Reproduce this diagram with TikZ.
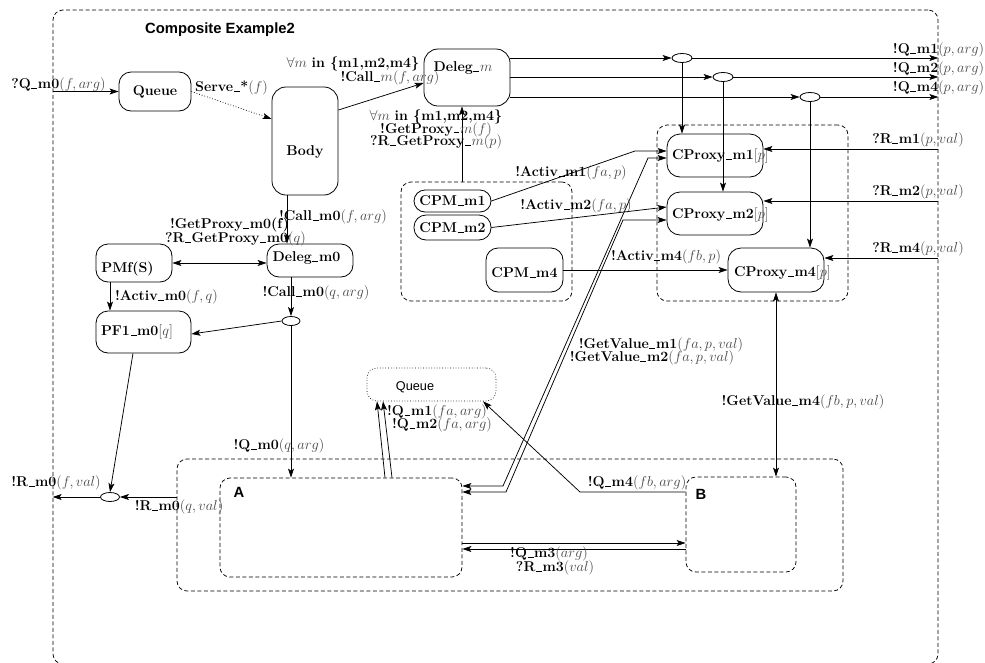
\documentclass[tikz,border=0pt]{standalone}
\usepackage{fontspec}
\newfontfamily\hv{Liberation Sans}
\usetikzlibrary{shapes.geometric,arrows.meta}
\definecolor{mathgray}{gray}{0.28}
\newcommand\gm[1]{\textcolor{mathgray}{$#1$}}
\newcommand\bb[1]{\textbf{#1}}
\newcommand\us{\kern0.04em\rule{0.42em}{0.6pt}\kern0.04em}
\newcommand\lt[2]{\makebox[0pt][l]{\hspace*{#1}#2}}
\begin{document}
\begin{tikzpicture}[x=1pt,y=-1pt,
  every node/.style={font=\fontsize{14.2}{15}\selectfont},
  lbl/.style={inner sep=0pt},
  box/.style={draw, line width=0.8pt, rounded corners=12pt, inner sep=0pt},
  reg/.style={draw, dash pattern=on 4pt off 2.5pt, line width=0.75pt, rounded corners=10pt, inner sep=0pt},
  junc/.style={draw, ellipse, line width=0.8pt, minimum width=20pt, minimum height=9pt, inner sep=0pt},
  arr/.style={line width=0.75pt, -{Stealth[length=9pt,width=6pt,inset=2pt]}},
  arrs/.style={line width=0.75pt, {Stealth[length=9pt,width=6pt,inset=2pt]}-{Stealth[length=9pt,width=6pt,inset=2pt]}},
  sans/.style={font=\hv\bfseries\fontsize{14.8}{15}\selectfont}
]
\useasboundingbox (0,0) rectangle (985,662);
% regions
\node[reg, minimum width=885pt, minimum height=654pt] (outer) at (495.5,337) {};
\node[sans] (title) at (220,30) {Composite Example2};
\node[reg, minimum width=171pt, minimum height=119pt] (cpmreg) at (486.5,241.5) {};
\node[reg, minimum width=191pt, minimum height=176pt] (cpreg) at (752.5,213) {};
\node[reg, minimum width=666pt, minimum height=132pt] (big) at (510,525) {};
\node[reg, minimum width=242pt, minimum height=99pt] (A) at (341,527.5) {};
\node[reg, minimum width=110pt, minimum height=95pt] (B) at (741,524.5) {};
\node[sans] (Alab) at (239,492) {A};
\node[sans] (Blab) at (701,494) {B};
\node[draw, dotted, line width=0.7pt, rounded corners=10pt, inner sep=0pt, minimum width=129pt, minimum height=33pt,
  label={[xshift=-16.5pt,yshift=-2.5pt,font=\hv\fontsize{12.7}{13}\selectfont]center:Queue}] (q2) at (431.5,384.5) {};
% boxes
\node[box, minimum width=72pt, minimum height=39pt] (queue) at (155,91.5) {\bb{Queue}};
\node[box, rounded corners=14pt, minimum width=66pt, minimum height=108pt,
  label={[yshift=-11pt]center:\bb{Body}}] (body) at (305,141) {};
\node[box, rounded corners=14pt, minimum width=86pt, minimum height=57pt,
  label={[xshift=-4pt,yshift=9.5pt]center:{\bb{Deleg\us}\gm{m}}}] (dm) at (467,77.5) {};
\node[box, minimum width=86pt, minimum height=33pt,
  label={[xshift=-3.5pt,yshift=2.5pt]center:\bb{Deleg\us m0}}] (dm0) at (310,260.5) {};
\node[box, minimum width=76pt, minimum height=38pt,
  label={[xshift=-6.5pt,yshift=-5.5pt]center:\bb{PMf(S)}}] (pmf) at (134,263) {};
\node[box, minimum width=95pt, minimum height=42pt,
  label={[xshift=-6.5pt]center:{\bb{PF1\us m0}\gm{[q]}}}] (pf1) at (143.5,332) {};
\node[box, rounded corners=11pt, minimum width=77pt, minimum height=22pt] (cpm1) at (452.5,201) {\bb{CPM\us m1}};
\node[box, rounded corners=12pt, minimum width=77pt, minimum height=25pt] (cpm2) at (452.5,227.5) {\bb{CPM\us m2}};
\node[box, minimum width=77pt, minimum height=44pt,
  label={[yshift=-3pt]center:\bb{CPM\us m4}}] (cpm4) at (524.5,270) {};
\node[box, rounded corners=13pt, minimum width=96pt, minimum height=43pt] (cp1) at (715,155.5) {\lt{-43pt}{\bb{CProxy\us m1}\gm{[p]}}};
\node[box, rounded corners=13pt, minimum width=96pt, minimum height=43pt,
  label={[yshift=-1.5pt]center:\lt{-43pt}{\bb{CProxy\us m2}\gm{[p]}}}] (cp2) at (715,213.5) {};
\node[box, rounded corners=13pt, minimum width=96pt, minimum height=44pt,
  label={[yshift=-3pt]center:\lt{-42pt}{\bb{CProxy\us m4}\gm{[p]}}}] (cp4) at (776,270) {};
% junctions
\node[junc] (e1) at (682,58) {};
\node[junc] (e2) at (723,77) {};
\node[junc] (e3) at (810,97) {};
\node[junc, minimum width=18pt] (e0) at (291,321) {};
\node[junc, minimum width=19pt] (eR) at (110,497) {};
% coordinates
\coordinate (gp) at ([xshift=-24.5pt]cpmreg.north);
\coordinate (a1) at (635,151);
\coordinate (g1a) at (648,158);
\coordinate (g1b) at (503,486);
\coordinate (g2a) at (623,220);
\coordinate (g2b) at (506,492);
\coordinate (m3a) at ([yshift=-15.5pt]A.east);
\coordinate (m3b) at ([yshift=-21.5pt]A.east);
\coordinate (q4b) at (580,492);
\coordinate (c0) at ([xshift=-18pt]body.south);
\coordinate (c1) at ([xshift=-24pt]pmf.south);
\coordinate (r1) at ([yshift=6.5pt]cp1.east);
\coordinate (r2) at ([yshift=12.5pt]cp2.east);
\coordinate (r4) at ([yshift=12pt]cp4.east);
% connectors top
\draw[arr] (outer.west |- queue.west) -- (queue.west);
\draw[arr, dotted] (queue.east) -- ([yshift=22pt]body.west);
\draw[arr] ([yshift=31pt]body.east) -- ([yshift=-5.5pt]dm.west);
\draw[arr] (dm.east |- e1) -- (e1.west);
\draw[arr] (dm.east |- e2) -- (e2.west);
\draw[arr] (dm.east |- e3) -- (e3.west);
\draw[arr] (e1.east) -- (e1 -| outer.east);
\draw[arr] (e2.east) -- (e2 -| outer.east);
\draw[arr] (e3.east) -- (e3 -| outer.east);
\draw[arr] (e1.south) -- (e1 |- cp1.north);
\draw[arr] (e2.south) -- (e2 |- cp2.north);
\draw[arr] (e3.south) -- (e3 |- cp4.north);
\draw[arr] (r1 -| outer.east) -- (r1);
\draw[arr] (r2 -| outer.east) -- (r2);
\draw[arr] (r4 -| outer.east) -- (r4);
\draw[arr] (gp) -- (gp |- dm.south);
\draw[arr] (cpm1.east) -- (a1) -- (a1 -| cp1.west);
\draw[arr] (cpm2.east) -- ([yshift=6.5pt]cp2.west);
\draw[arr] (cpm4.east) -- (cp4.west);
\draw[arrs] (g1b -| A.east) -- (g1b) -- (g1a) -- (g1a -| cp1.west);
\draw[arrs] (g2b -| A.east) -- (g2b) -- (g2a) -- (g2a -| cp2.west);
\draw[arrs] (cp4.south) -- (cp4.south |- B.north);
\draw[arr] (m3a) -- (m3a -| B.west);
\draw[arr] (m3b -| B.west) -- (m3b);
\draw[arr] (q4b -| B.west) -- (q4b) -- ([xshift=51.5pt]q2.south);
\draw[arr] ([xshift=44pt]A.north) -- ([xshift=-54.5pt]q2.south);
\draw[arr] ([xshift=51pt]A.north) -- ([xshift=-48.5pt]q2.south);
% connectors left
\draw[arr] (c0) -- (c0 |- dm0.north);
\draw[arrs] (pmf.east) -- (pmf.east -| dm0.west);
\draw[arr] (c1) -- (c1 |- pf1.north);
\draw[arr] (e0 |- dm0.south) -- (e0.north);
\draw[arr] (e0.west) -- ([yshift=-2pt]pf1.east);
\draw[arr] (e0.south) -- (e0 |- A.north);
\draw[arr] ([xshift=-10.5pt]pf1.south) -- (eR.north);
\draw[arr] (eR -| big.west) -- (eR.east);
\draw[arr] (eR.west) -- (eR -| outer.west);
% labels
\node[lbl] (lq0) at (58.5,85) {\bb{?Q\us m0}\gm{(f,arg)}};
\node[lbl] (lsv) at (231.5,88) {\bb{Serve\us *}\gm{(f)}};
\node[lbl] (lfa) at (353,64) {\gm{\forall m} \bb{in \{m1,m2,m4\}}};
\node[lbl] (lcm) at (390,78) {\bb{!Call\us}\gm{m(f,arg)}};
\node[lbl] (lqm1) at (938.5,50) {\bb{!Q\us m1}\gm{(p,arg)}};
\node[lbl] (lqm2) at (938.5,69) {\bb{!Q\us m2}\gm{(p,arg)}};
\node[lbl] (lqm4) at (938.5,88) {\bb{!Q\us m4}\gm{(p,arg)}};
\node[lbl] (lrm1) at (918,140) {\bb{?R\us m1}\gm{(p,val)}};
\node[lbl] (lrm2) at (918,192) {\bb{?R\us m2}\gm{(p,val)}};
\node[lbl] (lrm4) at (918,249) {\bb{?R\us m4}\gm{(p,val)}};
\node[lbl, align=center] (lgp) at (436,129.5) {\gm{\forall m} \bb{in \{m1,m2,m4\}}\\[-2.5pt]\bb{!GetProxy\us}\gm{m(f)}\\[-2.5pt]\bb{?R\us GetProxy\us}\gm{m(p)}};
\node[lbl] (la1) at (571,173) {\bb{!Activ\us m1}\gm{(fa,p)}};
\node[lbl] (la2) at (576,206) {\bb{!Activ\us m2}\gm{(fa,p)}};
\node[lbl] (la4) at (666,257) {\bb{!Activ\us m4}\gm{(fb,p)}};
\node[lbl] (lgv1) at (661,345) {\bb{!GetValue\us m1}\gm{(fa,p,val)}};
\node[lbl] (lgv2) at (652,358) {\bb{!GetValue\us m2}\gm{(fa,p,val)}};
\node[lbl] (lgv4) at (803,402) {\bb{!GetValue\us m4}\gm{(fb,p,val)}};
\node[lbl] (lqa1) at (437,412) {\bb{!Q\us m1}\gm{(fa,arg)}};
\node[lbl] (lqa2) at (442,425) {\bb{!Q\us m2}\gm{(fa,arg)}};
\node[lbl] (lq4) at (637,483) {\bb{!Q\us m4}\gm{(fb,arg)}};
\node[lbl] (lq3) at (549,554) {\bb{!Q\us m3}\gm{(arg)}};
\node[lbl] (lr3) at (555,568) {\bb{?R\us m3}\gm{(val)}};
\node[lbl] (lc0) at (333,217) {\bb{!Call\us m0}\gm{(f,arg)}};
\node[lbl] (lgp0) at (229.5,225) {\bb{!GetProxy\us m0(f)}};
\node[lbl] (lrgp0) at (235.5,239) {\bb{?R\us GetProxy\us m0}\gm{(q)}};
\node[lbl] (lac0) at (166.5,297) {\bb{!Activ\us m0}\gm{(f,q)}};
\node[lbl] (lcq0) at (316,293) {\bb{!Call\us m0}\gm{(q,arg)}};
\node[lbl] (lqq0) at (279,446) {\bb{!Q\us m0}\gm{(q,arg)}};
\node[lbl] (lrq0) at (179,507) {\bb{!R\us m0}\gm{(q,val)}};
\node[lbl] (lrf0) at (56,483) {\bb{!R\us m0}\gm{(f,val)}};
\end{tikzpicture}
\end{document}
